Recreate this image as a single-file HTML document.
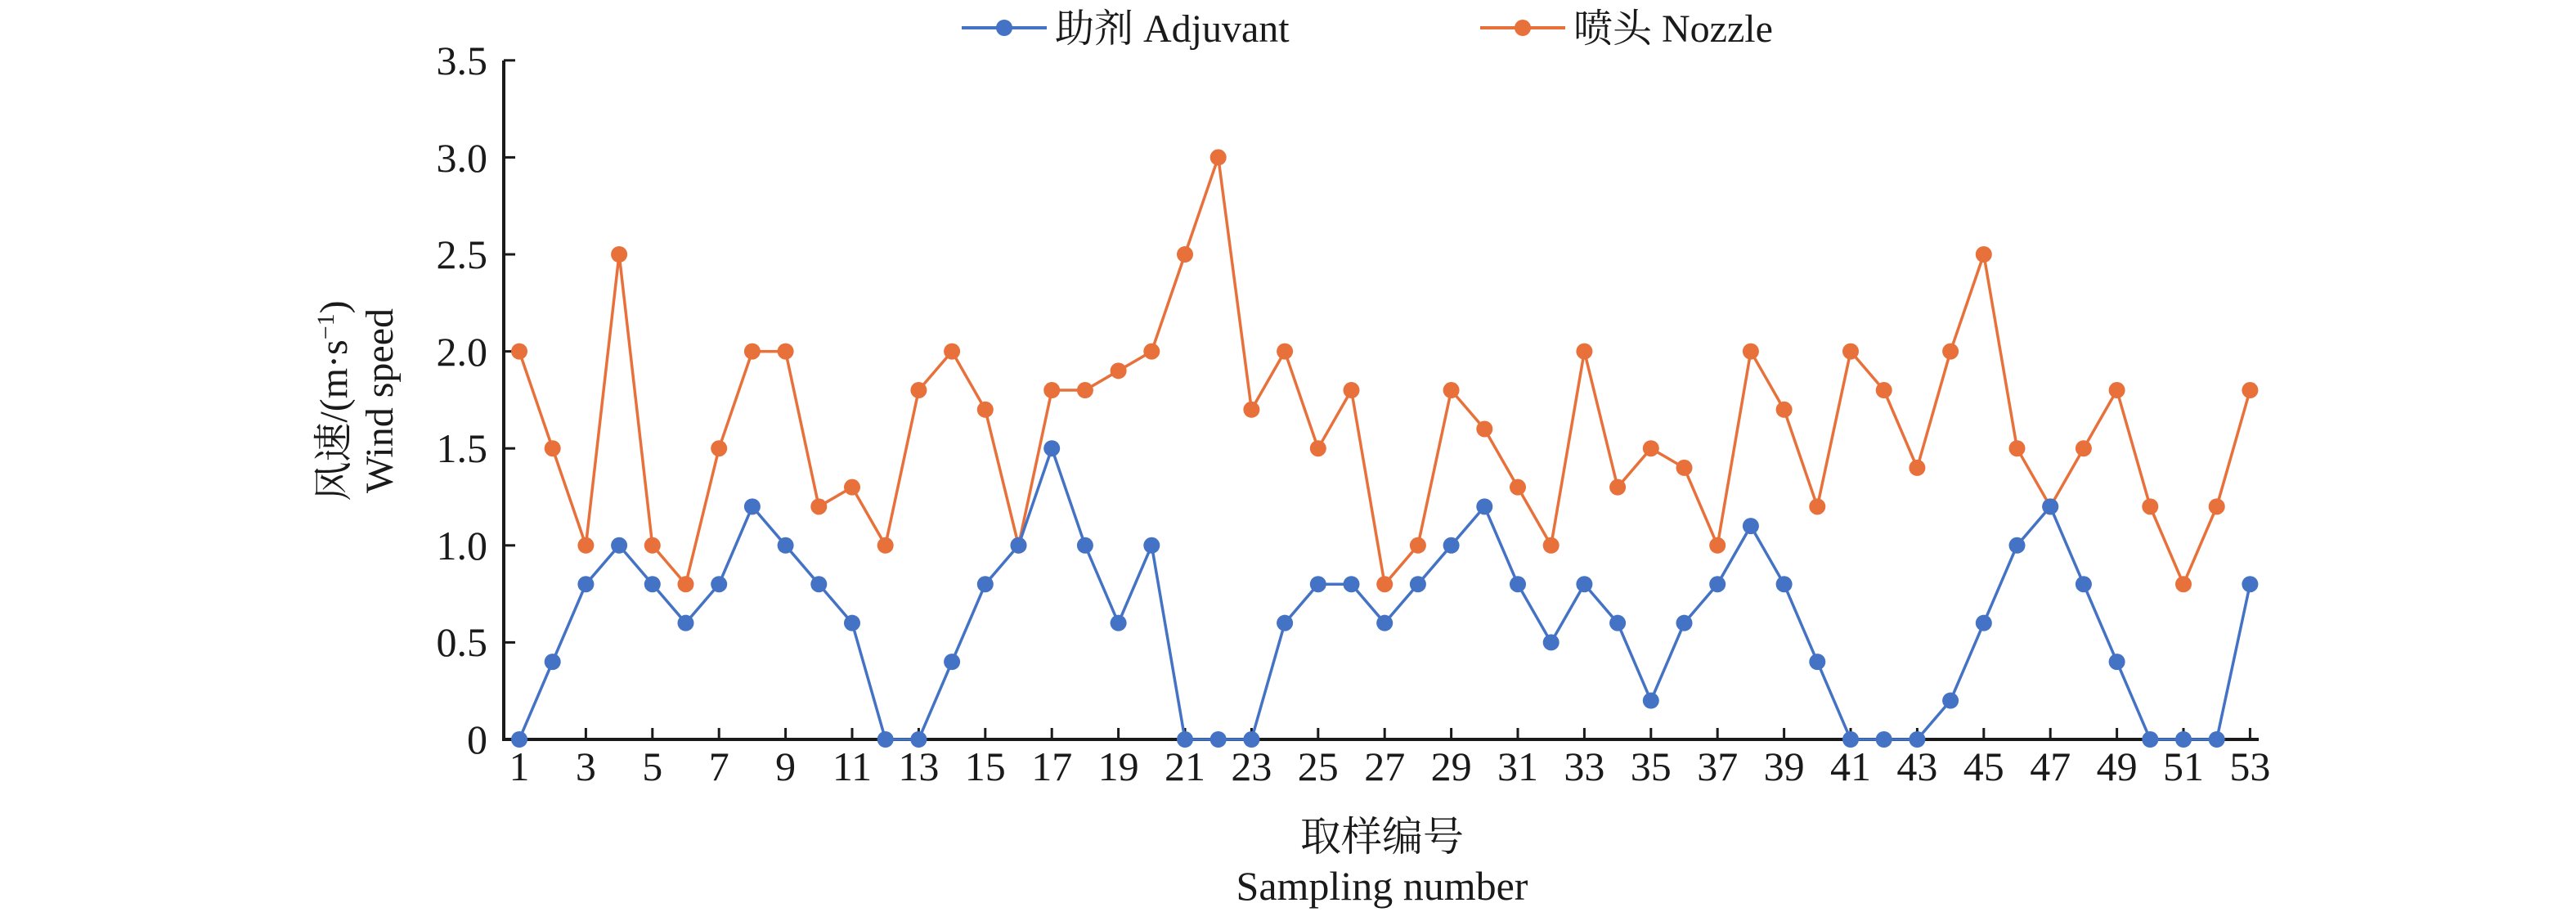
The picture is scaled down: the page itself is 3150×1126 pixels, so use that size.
<!DOCTYPE html>
<html><head><meta charset="utf-8"><style>
html,body{margin:0;padding:0;background:#fff;}
svg{display:block;}
text{font-family:"Liberation Serif","Noto Serif CJK SC",serif;fill:#1a1a1a;}
</style></head><body>
<svg id="s" width="3150" height="1126" viewBox="0 0 3150 1126" xmlns="http://www.w3.org/2000/svg">
<g id="axes" stroke="#1a1a1a" stroke-width="4" fill="none">
<line x1="616" y1="74" x2="616" y2="906"/>
<line x1="614" y1="904" x2="2762" y2="904"/>
</g>
<g id="ticks" stroke="#1a1a1a" stroke-width="3"></g>
<g id="ylab" font-size="50" text-anchor="end">
<text x="596" y="921">0</text>
<text x="596" y="802">0.5</text>
<text x="596" y="684">1.0</text>
<text x="596" y="565">1.5</text>
<text x="596" y="447">2.0</text>
<text x="596" y="328">2.5</text>
<text x="596" y="210">3.0</text>
<text x="596" y="91">3.5</text>
</g>
<g id="xlab" font-size="50" text-anchor="middle"></g>
<g id="series"></g>
<text x="1690" y="1040" font-size="50" text-anchor="middle">取样编号</text>
<text x="1690" y="1100" font-size="50" text-anchor="middle">Sampling number</text>
<text transform="translate(424,490) rotate(-90)" font-size="48" text-anchor="middle">风速/(m·s<tspan font-size="30" dy="-16">−1</tspan><tspan dy="16">)</tspan></text>
<text transform="translate(480,490) rotate(-90)" font-size="48" text-anchor="middle">Wind speed</text>
<g>
<line x1="1176" y1="34" x2="1280" y2="34" stroke="#4472C4" stroke-width="4"/>
<circle cx="1228" cy="34" r="10" fill="#4472C4"/>
<text x="1290" y="51" font-size="48">助剂 Adjuvant</text>
<line x1="1810" y1="34" x2="1914" y2="34" stroke="#E8703A" stroke-width="4"/>
<circle cx="1862" cy="34" r="10" fill="#E8703A"/>
<text x="1924" y="51" font-size="48">喷头 Nozzle</text>
</g>
</svg>
<script>
var A=[0,.4,.8,1,.8,.6,.8,1.2,1,.8,.6,0,0,.4,.8,1,1.5,1,.6,1,0,0,0,.6,.8,.8,.6,.8,1,1.2,.8,.5,.8,.6,.2,.6,.8,1.1,.8,.4,0,0,0,.2,.6,1,1.2,.8,.4,0,0,0,.8];
var N=[2,1.5,1,2.5,1,.8,1.5,2,2,1.2,1.3,1,1.8,2,1.7,1,1.8,1.8,1.9,2,2.5,3,1.7,2,1.5,1.8,.8,1,1.8,1.6,1.3,1,2,1.3,1.5,1.4,1,2,1.7,1.2,2,1.8,1.4,2,2.5,1.5,1.2,1.5,1.8,1.2,.8,1.2,1.8];
var NS="http://www.w3.org/2000/svg";
function X(i){return 635+i*40.7;}
function Y(v){return 904-v*237.2;}
function el(t,a,p){var e=document.createElementNS(NS,t);for(var k in a)e.setAttribute(k,a[k]);p.appendChild(e);return e;}
var tk=document.getElementById('ticks'),xl=document.getElementById('xlab'),sr=document.getElementById('series');
for(var i=0;i<53;i+=2){
 if(i>0)el('line',{x1:X(i),y1:904,x2:X(i),y2:890},tk);
 var t=el('text',{x:X(i),y:954},xl);t.textContent=String(i+1);
}
for(var v=0.5;v<=3.5;v+=0.5){el('line',{x1:616,y1:Y(v),x2:630,y2:Y(v)},tk);}
function draw(d,c){
 var p=d.map(function(v,i){return X(i)+','+Y(v);}).join(' ');
 el('polyline',{points:p,fill:'none',stroke:c,'stroke-width':3.5},sr);
 d.forEach(function(v,i){el('circle',{cx:X(i),cy:Y(v),r:10,fill:c},sr);});
}
draw(N,'#E8703A');draw(A,'#4472C4');
</script>
</body></html>
